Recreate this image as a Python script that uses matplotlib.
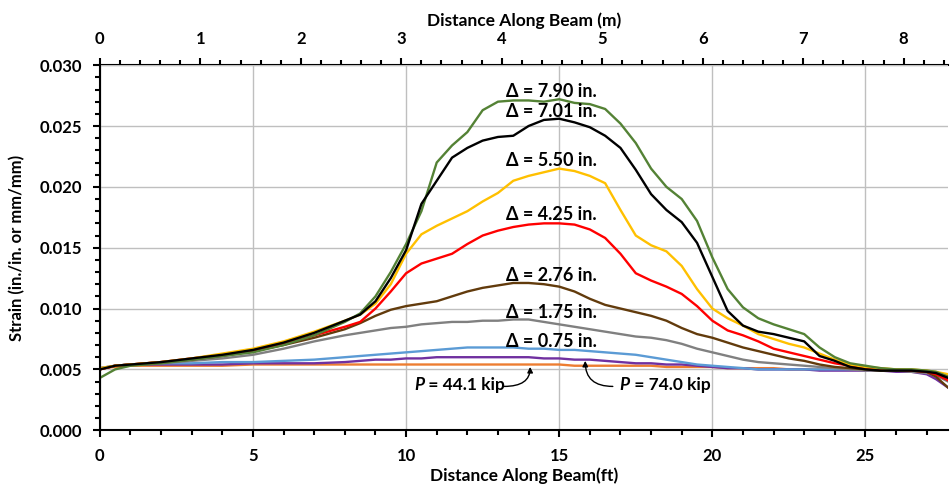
import matplotlib
matplotlib.use("Agg")
import matplotlib.pyplot as plt
from matplotlib.ticker import MultipleLocator, FormatStrFormatter, FixedLocator

plt.rcParams["font.family"] = ["Lato", "DejaVu Sans"]
plt.rcParams["font.weight"] = "bold"

# Distancia a lo largo de la viga (ft)
x_ft = [0, 0.5, 1, 2, 3, 4, 5, 6, 7, 8, 8.5, 9, 9.5, 10, 10.5, 11, 11.5, 12, 12.5, 13,
        13.5, 14, 14.5, 15, 15.5, 16, 16.5, 17, 17.5, 18, 18.5, 19, 19.5, 20, 20.5, 21,
        21.5, 22, 22.5, 23, 23.5, 24, 24.5, 25, 25.5, 26, 26.5, 27, 27.3, 27.7]

p_441 = [0.0051, 0.0052, 0.0053, 0.0053, 0.0053, 0.0053, 0.0054, 0.0054, 0.0054, 0.0054,
         0.0054, 0.0054, 0.0054, 0.0054, 0.0054, 0.0054, 0.0054, 0.0054, 0.0054, 0.0054,
         0.0054, 0.0054, 0.0054, 0.0054, 0.0053, 0.0053, 0.0053, 0.0053, 0.0053, 0.0053,
         0.0052, 0.0052, 0.0052, 0.0052, 0.0051, 0.0051, 0.0051, 0.0051, 0.0050, 0.0050,
         0.0050, 0.0050, 0.0050, 0.0050, 0.0049, 0.0049, 0.0049, 0.0048, 0.0047, 0.0045]
p_740 = [0.0051, 0.0053, 0.0054, 0.0054, 0.0054, 0.0054, 0.0055, 0.0055, 0.0055, 0.0056,
         0.0057, 0.0058, 0.0058, 0.0059, 0.0059, 0.0060, 0.0060, 0.0060, 0.0060, 0.0060,
         0.0060, 0.0060, 0.0059, 0.0059, 0.0058, 0.0058, 0.0057, 0.0056, 0.0055, 0.0055,
         0.0054, 0.0054, 0.0053, 0.0052, 0.0051, 0.0051, 0.0050, 0.0050, 0.0050, 0.0050,
         0.0049, 0.0049, 0.0049, 0.0049, 0.0049, 0.0048, 0.0048, 0.0046, 0.0042, 0.0035]
d_075 = [0.0051, 0.0053, 0.0054, 0.0055, 0.0055, 0.0056, 0.0056, 0.0057, 0.0058, 0.0060,
         0.0061, 0.0062, 0.0063, 0.0064, 0.0065, 0.0066, 0.0067, 0.0068, 0.0068, 0.0068,
         0.0068, 0.0067, 0.0067, 0.0066, 0.0066, 0.0065, 0.0064, 0.0063, 0.0062, 0.0060,
         0.0058, 0.0056, 0.0054, 0.0053, 0.0052, 0.0051, 0.0050, 0.0050, 0.0050, 0.0050,
         0.0050, 0.0050, 0.0050, 0.0050, 0.0049, 0.0049, 0.0049, 0.0048, 0.0046, 0.0042]
d_175 = [0.0050, 0.0053, 0.0054, 0.0055, 0.0057, 0.0059, 0.0062, 0.0067, 0.0073, 0.0078,
         0.0080, 0.0082, 0.0084, 0.0085, 0.0087, 0.0088, 0.0089, 0.0089, 0.0090, 0.0090,
         0.0091, 0.0091, 0.0089, 0.0087, 0.0085, 0.0083, 0.0081, 0.0079, 0.0077, 0.0076,
         0.0074, 0.0071, 0.0067, 0.0064, 0.0061, 0.0058, 0.0056, 0.0055, 0.0054, 0.0053,
         0.0052, 0.0051, 0.0050, 0.0049, 0.0049, 0.0049, 0.0048, 0.0047, 0.0045, 0.0040]
d_276 = [0.0050, 0.0053, 0.0054, 0.0056, 0.0058, 0.0061, 0.0065, 0.0070, 0.0076, 0.0083,
         0.0088, 0.0094, 0.0099, 0.0102, 0.0104, 0.0106, 0.0110, 0.0114, 0.0117, 0.0119,
         0.0121, 0.0121, 0.0120, 0.0118, 0.0114, 0.0108, 0.0103, 0.0100, 0.0097, 0.0094,
         0.0090, 0.0084, 0.0079, 0.0076, 0.0072, 0.0068, 0.0065, 0.0062, 0.0059, 0.0057,
         0.0054, 0.0052, 0.0051, 0.0050, 0.0049, 0.0049, 0.0049, 0.0048, 0.0044, 0.0035]
d_425 = [0.0050, 0.0053, 0.0054, 0.0056, 0.0059, 0.0062, 0.0066, 0.0071, 0.0078, 0.0085,
         0.0089, 0.0100, 0.0114, 0.0129, 0.0137, 0.0141, 0.0145, 0.0153, 0.0160, 0.0164,
         0.0167, 0.0169, 0.0170, 0.0170, 0.0169, 0.0165, 0.0158, 0.0145, 0.0129, 0.0123,
         0.0118, 0.0112, 0.0102, 0.0090, 0.0082, 0.0078, 0.0073, 0.0067, 0.0064, 0.0061,
         0.0058, 0.0055, 0.0053, 0.0051, 0.0050, 0.0050, 0.0049, 0.0048, 0.0046, 0.0041]
d_550 = [0.0051, 0.0053, 0.0054, 0.0056, 0.0059, 0.0063, 0.0067, 0.0073, 0.0081, 0.0090,
         0.0095, 0.0104, 0.0120, 0.0145, 0.0161, 0.0168, 0.0174, 0.0180, 0.0188, 0.0195,
         0.0205, 0.0209, 0.0212, 0.0215, 0.0213, 0.0209, 0.0203, 0.0181, 0.0160, 0.0152,
         0.0147, 0.0135, 0.0116, 0.0100, 0.0092, 0.0086, 0.0079, 0.0075, 0.0071, 0.0068,
         0.0063, 0.0058, 0.0054, 0.0052, 0.0051, 0.0050, 0.0050, 0.0049, 0.0048, 0.0046]
d_701 = [0.0050, 0.0053, 0.0054, 0.0056, 0.0059, 0.0062, 0.0066, 0.0072, 0.0080, 0.0090,
         0.0095, 0.0106, 0.0125, 0.0148, 0.0186, 0.0205, 0.0224, 0.0232, 0.0238, 0.0241,
         0.0242, 0.0250, 0.0255, 0.0256, 0.0253, 0.0249, 0.0242, 0.0232, 0.0214, 0.0194,
         0.0181, 0.0171, 0.0154, 0.0126, 0.0098, 0.0086, 0.0081, 0.0079, 0.0076, 0.0073,
         0.0061, 0.0057, 0.0052, 0.0050, 0.0049, 0.0049, 0.0049, 0.0048, 0.0047, 0.0043]
d_790 = [0.0043, 0.0050, 0.0053, 0.0055, 0.0058, 0.0061, 0.0064, 0.0070, 0.0078, 0.0089,
         0.0096, 0.0110, 0.0130, 0.0153, 0.0180, 0.0220, 0.0234, 0.0245, 0.0263, 0.0270,
         0.0271, 0.0271, 0.0270, 0.0272, 0.0269, 0.0268, 0.0264, 0.0252, 0.0236, 0.0215,
         0.0200, 0.0190, 0.0172, 0.0142, 0.0116, 0.0101, 0.0092, 0.0087, 0.0083, 0.0079,
         0.0068, 0.0060, 0.0055, 0.0053, 0.0051, 0.0050, 0.0050, 0.0049, 0.0048, 0.0044]

series = [
    (p_441, "#ED7D31"),
    (p_740, "#7030A0"),
    (d_075, "#5B9BD5"),
    (d_175, "#808080"),
    (d_276, "#623B0C"),
    (d_425, "#FF0000"),
    (d_550, "#FFC000"),
    (d_790, "#548235"),
    (d_701, "#000000"),
]

# Etiquetas de deflexión (texto, y)
delta_labels = ["Δ = 7.90 in.", "Δ = 7.01 in.", "Δ = 5.50 in.", "Δ = 4.25 in.",
                "Δ = 2.76 in.", "Δ = 1.75 in.", "Δ = 0.75 in."]
delta_y = [0.0278, 0.0262, 0.0222, 0.0177, 0.01275, 0.0097, 0.0073]
delta_x = 14.75

m_ticks = [0, 1, 2, 3, 4, 5, 6, 7, 8]


def ft2m(x):
    return x * 0.3048


def m2ft(x):
    return x / 0.3048


fig = plt.figure(figsize=(9.51, 4.90), dpi=100)
ax = fig.add_axes([0.105, 0.122, 0.892, 0.745])

for y, c in series:
    ax.plot(x_ft, y, color=c, linewidth=1.7, solid_joinstyle="round")

ax.set_xlim(0, 27.7)
ax.set_ylim(0, 0.030)
ax.xaxis.set_major_locator(MultipleLocator(5))
ax.xaxis.set_minor_locator(MultipleLocator(1))
ax.yaxis.set_major_locator(MultipleLocator(0.005))
ax.yaxis.set_minor_locator(MultipleLocator(0.001))
ax.yaxis.set_major_formatter(FormatStrFormatter("%.3f"))
ax.grid(True, which="major", color="#BFBFBF", linewidth=1.0)
ax.set_axisbelow(True)

for s in ["left", "bottom"]:
    ax.spines[s].set_linewidth(1.5)
ax.spines["right"].set_visible(False)
ax.spines["top"].set_visible(False)

ax.tick_params(axis="both", which="major", direction="out", length=5, width=1.5,
               labelsize=12, pad=8)
ax.tick_params(axis="both", which="minor", direction="out", length=3.5, width=1.5)

secax = ax.secondary_xaxis("top", functions=(ft2m, m2ft))
secax.xaxis.set_major_locator(FixedLocator(m_ticks))
secax.xaxis.set_minor_locator(FixedLocator([i * 0.2 for i in range(43)]))
secax.spines["top"].set_linewidth(1.5)
secax.tick_params(axis="x", which="major", direction="out", length=5, width=1.5,
                  labelsize=12, pad=8)
secax.tick_params(axis="x", which="minor", direction="out", length=3.5, width=1.5)
secax.set_xlabel("Distance Along Beam (m)", fontsize=12.5, fontweight="bold", labelpad=4)

ax.set_xlabel("Distance Along Beam(ft)", fontsize=12.5, fontweight="bold", labelpad=2)
ax.set_ylabel("Strain (in./in. or mm/mm)", fontsize=12, fontweight="bold", labelpad=10)

for lab, yy in zip(delta_labels, delta_y):
    ax.text(delta_x, yy, lab, ha="center", va="center", fontsize=13, fontweight="bold")

# Etiquetas de carga con flechas
ax.text(10.6, 0.0037, "P", style="italic", fontsize=12.5, fontweight="bold",
        ha="right", va="center")
ax.text(10.6, 0.0037, " = 44.1 kip", fontsize=12.5, fontweight="bold",
        ha="left", va="center")
ax.annotate("", xy=(14.05, 0.0052), xytext=(13.2, 0.0036),
            arrowprops=dict(arrowstyle="-|>", color="black", lw=1.0, mutation_scale=8,
                            shrinkA=0, shrinkB=0,
                            connectionstyle="angle3,angleA=0,angleB=90"))

ax.text(17.3, 0.0037, "P", style="italic", fontsize=12.5, fontweight="bold",
        ha="right", va="center")
ax.text(17.3, 0.0037, " = 74.0 kip", fontsize=12.5, fontweight="bold",
        ha="left", va="center")
ax.annotate("", xy=(15.85, 0.0057), xytext=(16.75, 0.0036),
            arrowprops=dict(arrowstyle="-|>", color="black", lw=1.0, mutation_scale=8,
                            shrinkA=0, shrinkB=0,
                            connectionstyle="angle3,angleA=0,angleB=90"))

fig.savefig("out.png", dpi=100)
